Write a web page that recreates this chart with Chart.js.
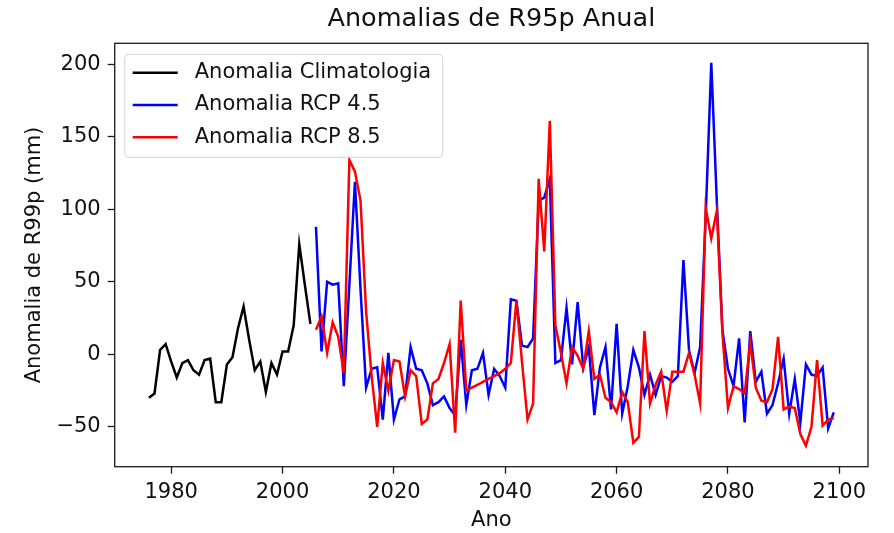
<!DOCTYPE html>
<html>
<head>
<meta charset="utf-8">
<script src="https://cdn.jsdelivr.net/npm/chart.js@4.4.1/dist/chart.umd.min.js"></script>
<style>
  body { margin: 0; background: #fff; }
  #chart { width: 894px; height: 533px; }
</style>
</head>
<body>
<canvas id="chart" width="894" height="533"></canvas>
<script>
// anos
var climStart = 1976;
var rcpStart = 2006;

// Anomalia Climatologia 1976-2005
var climValues = [-30, -27, 3, 7, -5, -16, -6, -4, -11, -14,
                  -4, -3, -33, -33, -7, -2, 18, 33, 10, -11,
                  -5, -26, -6, -14, 2, 2, 20, 76, 48, 21];

// Anomalia RCP 4.5 2006-2099
var rcp45Values = [88, 2, 50, 48, 49, -22, 48, 119, 45, -23,
                   -10, -9, -45, 1, -45, -31, -29, 5, -10, -11,
                   -20, -35, -33, -29, -37, -42, 10, -35, -11, -10,
                   1, -28, -10, -15, -23, 38, 37, 6, 5, 11,
                   106, 108, 121, -6, -4, 32, -7, 36, -9, 5,
                   -42, -9, 5, -38, 21, -41, -22, 3, -9, -28,
                   -14, -28, -15, -16, -19, -15, 65, 3, -13, 5,
                   95, 201, 105, 17, -10, -22, 11, -47, 16, -19,
                   -12, -41, -35, -20, -3, -41, -17, -47, -7, -14,
                   -15, -9, -51, -40];

// Anomalia RCP 8.5 2006-2099
var rcp85Values = [17, 26, 1, 22, 12, -13, 134, 126, 106, 30,
                   -15, -50, -6, -25, -4, -5, -29, -11, -15, -48,
                   -45, -20, -17, -6, 7, -54, 37, -25, -23, -21,
                   -19, -17, -15, -13, -10, -6, 37, -5, -45, -34,
                   121, 71, 161, 20, 1, -20, 5, -1, -10, 16,
                   -17, -14, -30, -33, -40, -26, -33, -61, -57, 16,
                   -34, -21, -12, -39, -12, -12, -12, 1, -14, -34,
                   101, 80, 99, 15, -37, -22, -24, -27, 8, -23,
                   -32, -33, -24, 12, -38, -36, -37, -55, -63, -50,
                   -4, -49, -45, -44];

var xTicks = [1980, 2000, 2020, 2040, 2060, 2080, 2100];
var yTicks = [-50, 0, 50, 100, 150, 200];

var titleText = 'Anomalias de R95p Anual';
var fontFamily = '"DejaVu Sans", sans-serif';

function toPoints(start, values) {
    return values.map(function(v, i) {
        return {x: start + i, y: v};
    });
}

// fundo branco
var whiteBg = {
    id: 'whiteBg',
    beforeDraw: function(chart) {
        var ctx = chart.ctx;
        ctx.save();
        ctx.fillStyle = '#ffffff';
        ctx.fillRect(0, 0, chart.width, chart.height);
        ctx.restore();
    }
};

// titulo centrado na area do grafico, moldura e legenda dentro da area
var frameLegend = {
    id: 'frameLegend',
    afterDraw: function(chart) {
        var ctx = chart.ctx;
        var a = chart.chartArea;
        ctx.save();

        ctx.font = '25.5px ' + fontFamily;
        ctx.fillStyle = '#111111';
        ctx.textAlign = 'center';
        ctx.textBaseline = 'middle';
        ctx.fillText(titleText, (a.left + a.right) / 2, 19.5);

        ctx.strokeStyle = '#1a1a1a';
        ctx.lineWidth = 1.3;
        ctx.strokeRect(a.left, a.top, a.right - a.left, a.bottom - a.top);

        var bx = a.left + 10, by = a.top + 11, bw = 318, bh = 103;
        ctx.beginPath();
        ctx.roundRect(bx, by, bw, bh, 4);
        ctx.fillStyle = 'rgba(255,255,255,0.8)';
        ctx.fill();
        ctx.strokeStyle = '#d5d5d5';
        ctx.lineWidth = 1;
        ctx.stroke();

        ctx.font = '21px ' + fontFamily;
        ctx.textBaseline = 'middle';
        ctx.textAlign = 'left';
        chart.data.datasets.forEach(function(ds, i) {
            var ly = by + 18.5 + i * 32.2;
            ctx.beginPath();
            ctx.moveTo(bx + 8, ly);
            ctx.lineTo(bx + 53, ly);
            ctx.strokeStyle = ds.borderColor;
            ctx.lineWidth = 2.5;
            ctx.stroke();
            ctx.fillStyle = '#111111';
            ctx.fillText(ds.label, bx + 70, ly);
        });
        ctx.restore();
    }
};

var ctx = document.getElementById('chart').getContext('2d');
var chart = new Chart(ctx, {
    type: 'line',
    data: {
        datasets: [
            {
                label: 'Anomalia Climatologia',
                data: toPoints(climStart, climValues),
                borderColor: '#000000',
                borderWidth: 2.5,
                pointRadius: 0,
                order: 3
            },
            {
                label: 'Anomalia RCP 4.5',
                data: toPoints(rcpStart, rcp45Values),
                borderColor: '#0000ff',
                borderWidth: 2.5,
                pointRadius: 0,
                order: 2
            },
            {
                label: 'Anomalia RCP 8.5',
                data: toPoints(rcpStart, rcp85Values),
                borderColor: '#ff0000',
                borderWidth: 2.5,
                pointRadius: 0,
                order: 1
            }
        ]
    },
    options: {
        responsive: false,
        animation: false,
        devicePixelRatio: 1,
        layout: { padding: { left: 0, right: 26, top: 43.3, bottom: 0 } },
        plugins: {
            legend: { display: false },
            tooltip: { enabled: false },
            title: { display: false }
        },
        scales: {
            x: {
                type: 'linear',
                min: 1969.85,
                max: 2105.15,
                afterBuildTicks: function(scale) {
                    scale.ticks = xTicks.map(function(v) { return {value: v}; });
                },
                afterFit: function(scale) { scale.height = 66.3; },
                ticks: {
                    color: '#111111',
                    font: { family: fontFamily, size: 21 },
                    padding: 6,
                    maxRotation: 0,
                    autoSkip: false,
                    callback: function(v) { return String(v); }
                },
                grid: {
                    drawOnChartArea: false,
                    drawTicks: true,
                    tickLength: 7,
                    tickWidth: 1.3,
                    tickColor: '#1a1a1a'
                },
                border: { display: false },
                title: {
                    display: true,
                    text: 'Ano',
                    color: '#111111',
                    font: { family: fontFamily, size: 21 },
                    padding: { top: 0, bottom: 0 }
                }
            },
            y: {
                type: 'linear',
                min: -77.5,
                max: 214.5,
                afterBuildTicks: function(scale) {
                    scale.ticks = yTicks.map(function(v) { return {value: v}; });
                },
                afterFit: function(scale) { scale.width = 114.7; },
                ticks: {
                    color: '#111111',
                    font: { family: fontFamily, size: 21 },
                    padding: 7,
                    autoSkip: false,
                    callback: function(v) { return v < 0 ? '\u2212' + Math.abs(v) : String(v); }
                },
                grid: {
                    drawOnChartArea: false,
                    drawTicks: true,
                    tickLength: 7,
                    tickWidth: 1.3,
                    tickColor: '#1a1a1a'
                },
                border: { display: false },
                title: {
                    display: true,
                    text: 'Anomalia de R99p (mm)',
                    color: '#111111',
                    font: { family: fontFamily, size: 21 },
                    padding: { top: 22, bottom: 0 }
                }
            }
        }
    },
    plugins: [whiteBg, frameLegend]
});
</script>
</body>
</html>
